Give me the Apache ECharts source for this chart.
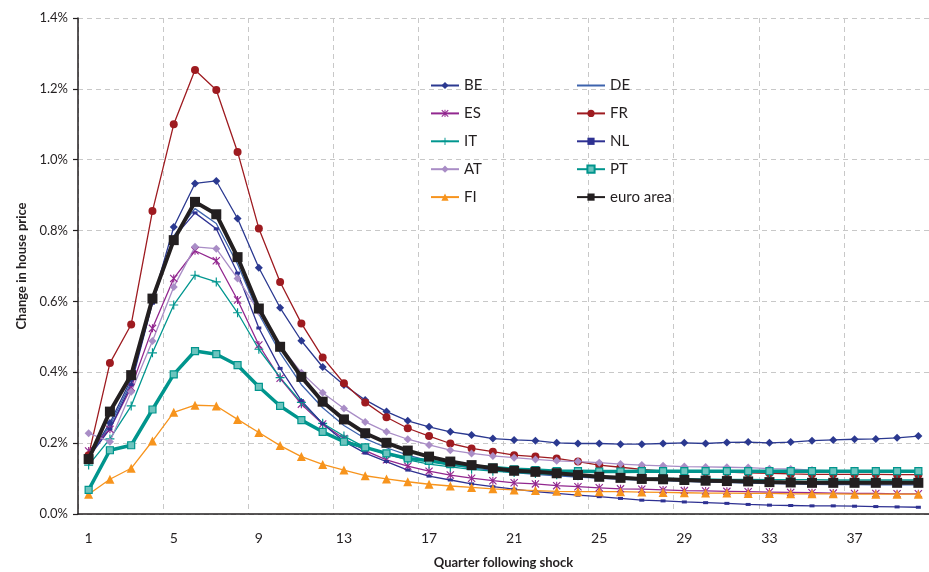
<!DOCTYPE html>
<html>
<head>
<meta charset="utf-8">
<script src="https://cdn.jsdelivr.net/npm/echarts@6/dist/echarts.min.js"></script>
<style>html,body{margin:0;padding:0;background:#fff;}#c{width:929px;height:572px;}</style>
</head>
<body>
<div id="c"></div>
<script>
const quarters = ['1','2','3','4','5','6','7','8','9','10','11','12','13','14','15','16','17','18','19','20','21','22','23','24','25','26','27','28','29','30','31','32','33','34','35','36','37','38','39','40'];
const BE = [0.160,0.257,0.381,0.600,0.810,0.933,0.940,0.834,0.695,0.582,0.489,0.415,0.364,0.322,0.289,0.263,0.246,0.232,0.223,0.213,0.209,0.207,0.201,0.199,0.199,0.197,0.197,0.199,0.201,0.199,0.202,0.203,0.201,0.203,0.207,0.209,0.211,0.212,0.215,0.220];
const DE = [0.160,0.250,0.372,0.600,0.785,0.862,0.820,0.705,0.565,0.455,0.365,0.300,0.250,0.213,0.187,0.166,0.150,0.139,0.130,0.123,0.117,0.112,0.108,0.104,0.101,0.098,0.096,0.094,0.092,0.090,0.089,0.087,0.086,0.085,0.084,0.083,0.083,0.082,0.082,0.082];
const ES = [0.178,0.239,0.357,0.524,0.665,0.743,0.715,0.604,0.477,0.383,0.310,0.254,0.213,0.179,0.153,0.135,0.121,0.110,0.101,0.094,0.088,0.085,0.080,0.077,0.074,0.071,0.070,0.068,0.066,0.065,0.064,0.063,0.062,0.061,0.060,0.059,0.058,0.058,0.057,0.057];
const FR = [0.166,0.426,0.535,0.855,1.100,1.253,1.197,1.022,0.806,0.655,0.538,0.442,0.369,0.315,0.273,0.242,0.220,0.199,0.185,0.176,0.166,0.162,0.157,0.148,0.138,0.132,0.126,0.121,0.121,0.118,0.118,0.116,0.115,0.113,0.112,0.112,0.112,0.112,0.111,0.111];
const IT = [0.138,0.212,0.305,0.455,0.590,0.674,0.655,0.568,0.465,0.385,0.315,0.256,0.220,0.188,0.168,0.153,0.141,0.133,0.126,0.121,0.117,0.114,0.111,0.108,0.106,0.104,0.102,0.101,0.100,0.099,0.098,0.098,0.097,0.097,0.097,0.096,0.096,0.096,0.096,0.096];
const NL = [0.160,0.240,0.365,0.595,0.780,0.850,0.805,0.680,0.525,0.411,0.320,0.255,0.205,0.172,0.148,0.124,0.107,0.096,0.085,0.077,0.070,0.063,0.058,0.053,0.049,0.044,0.039,0.037,0.034,0.032,0.030,0.027,0.025,0.024,0.023,0.023,0.022,0.021,0.020,0.019];
const AT = [0.228,0.204,0.345,0.488,0.641,0.754,0.749,0.665,0.571,0.475,0.399,0.342,0.298,0.260,0.232,0.211,0.195,0.180,0.171,0.164,0.159,0.154,0.150,0.148,0.145,0.141,0.138,0.136,0.134,0.133,0.132,0.131,0.128,0.127,0.124,0.122,0.122,0.122,0.122,0.122];
const PT = [0.068,0.180,0.194,0.295,0.394,0.460,0.451,0.420,0.359,0.305,0.265,0.232,0.204,0.188,0.171,0.157,0.150,0.141,0.135,0.131,0.126,0.124,0.121,0.121,0.120,0.120,0.121,0.121,0.121,0.121,0.121,0.121,0.121,0.121,0.121,0.121,0.121,0.121,0.121,0.121];
const FI = [0.056,0.098,0.129,0.206,0.287,0.307,0.305,0.267,0.230,0.193,0.162,0.140,0.124,0.108,0.099,0.091,0.084,0.079,0.075,0.071,0.068,0.066,0.064,0.063,0.063,0.063,0.062,0.061,0.060,0.059,0.059,0.058,0.058,0.057,0.057,0.057,0.056,0.056,0.056,0.056];
const EA = [0.155,0.289,0.392,0.608,0.773,0.881,0.846,0.725,0.580,0.472,0.387,0.317,0.267,0.228,0.201,0.179,0.162,0.148,0.138,0.129,0.122,0.119,0.115,0.110,0.105,0.102,0.099,0.098,0.096,0.094,0.093,0.092,0.090,0.089,0.088,0.088,0.088,0.088,0.088,0.088];

const FONT = 'Lato';
const TXT = '#231f20';
const STAR = 'path://M4.3,0 L5.7,0 L5.7,10 L4.3,10 Z M0,1 L1,0 L10,9 L9,10 Z M9,0 L10,1 L1,10 L0,9 Z';
const PLUS = 'path://M4.35,0 L5.65,0 L5.65,10 L4.35,10 Z M0,4.35 L10,4.35 L10,5.65 L0,5.65 Z';

function line(name, data, color, symbol, size, width, z, extra) {
  const s = {
    name: name, type: 'line', data: data, z: z,
    symbol: symbol, symbolSize: size, showSymbol: symbol !== 'none',
    lineStyle: {color: color, width: width},
    itemStyle: {color: color},
    emphasis: {disabled: true}
  };
  return Object.assign(s, extra || {});
}

const legendBase = {orient: 'vertical', top: 73, itemWidth: 28, itemHeight: 9, itemGap: 12.9,
  textStyle: {fontFamily: FONT, fontSize: 15, color: TXT}};

const chart = echarts.init(document.getElementById('c'), null, {renderer: 'canvas'});
chart.setOption({
  animation: false,
  grid: {left: 78, top: 18, right: 0, bottom: 58, containLabel: false, outerBoundsMode: 'none'},
  legend: [
    Object.assign({left: 425, data: ['BE','ES','IT','AT','FI']}, legendBase),
    Object.assign({left: 571, data: [{name: 'DE', itemStyle: {opacity: 0}},'FR','NL','PT','euro area']}, legendBase)
  ],
  xAxis: {
    type: 'category', data: quarters, boundaryGap: true,
    name: 'Quarter following shock', nameLocation: 'middle', nameGap: 42,
    nameTextStyle: {fontFamily: FONT, fontSize: 13, fontWeight: 'bold', color: TXT},
    axisLine: {lineStyle: {color: TXT, width: 1.5}},
    axisTick: {interval: 1, length: 5, lineStyle: {color: TXT, width: 1.2}},
    axisLabel: {interval: 3, fontFamily: FONT, fontSize: 14, color: TXT, margin: 17},
    splitLine: {show: true, interval: 3, lineStyle: {color: '#c8c8c8', type: [5, 4], width: 1}}
  },
  yAxis: {
    type: 'value', min: 0, max: 1.4, interval: 0.2,
    name: 'Change in house price', nameLocation: 'middle', nameGap: 50,
    nameTextStyle: {fontFamily: FONT, fontSize: 13, fontWeight: 'bold', color: TXT},
    axisLine: {show: true, lineStyle: {color: TXT, width: 1.5}},
    axisTick: {show: true, length: 5, lineStyle: {color: TXT, width: 1.2}},
    axisLabel: {fontFamily: FONT, fontSize: 13, color: TXT, margin: 10,
      formatter: v => v.toFixed(1) + '%'},
    splitLine: {show: true, lineStyle: {color: '#c8c8c8', type: [5, 4], width: 1}}
  },
  series: [
    line('BE', BE, '#2b3990', 'diamond', 8, 1.3, 3),
    line('DE', DE, '#3d63ad', 'circle', 0, 1.3, 3, {showSymbol: false}),
    line('ES', ES, '#92278f', STAR, 8, 1.3, 3),
    line('FR', FR, '#9e1b20', 'circle', 8, 1.3, 3),
    line('IT', IT, '#00968f', PLUS, 9, 1.3, 3),
    line('NL', NL, '#2e3192', 'rect', [5, 3], 1.3, 3),
    line('AT', AT, '#a98dc6', 'diamond', 8, 1.3, 3),
    line('PT', PT, '#00958d', 'rect', 7, 3.5, 4,
      {itemStyle: {color: '#6cc4be', borderColor: '#00958d', borderWidth: 1.2}}),
    line('FI', FI, '#f7941d', 'triangle', 9, 1.3, 3),
    line('euro area', EA, '#231f20', 'rect', 10, 4, 5)
  ]
});
</script>
</body>
</html>
